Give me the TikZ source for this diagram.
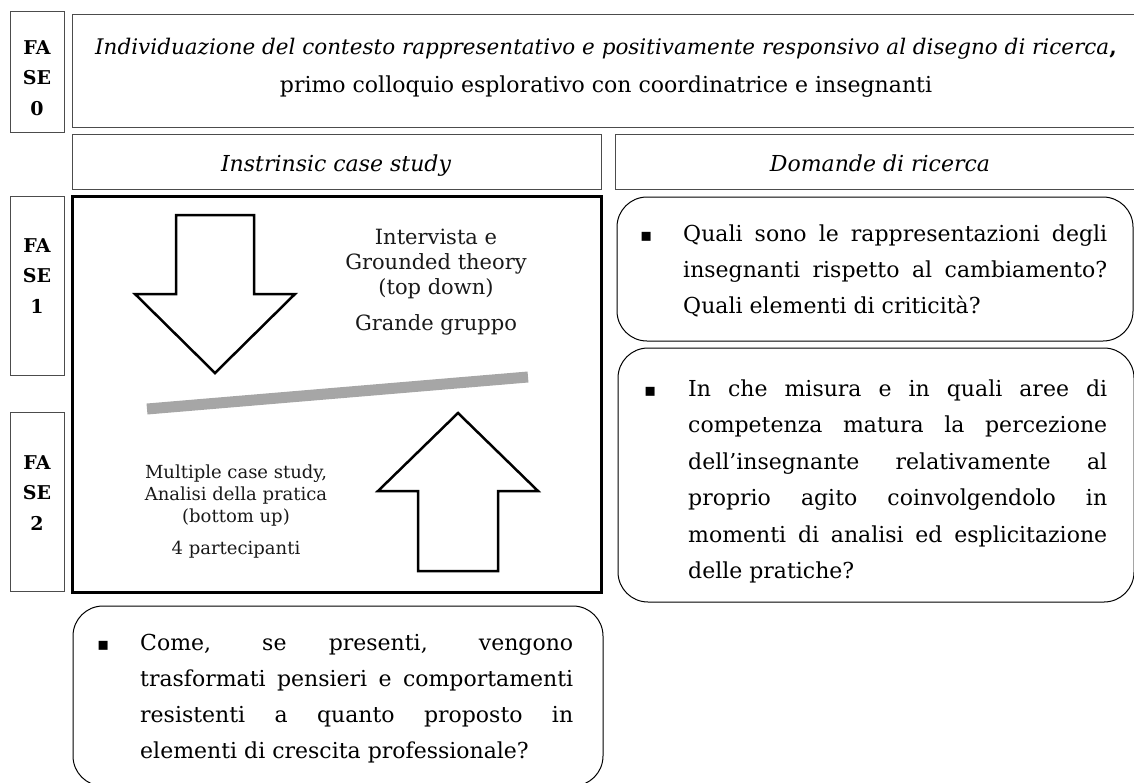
\documentclass[tikz,border=0pt]{standalone}
\usepackage{fontspec}
\setmainfont{DejaVu Serif}
\newfontfamily\bulletfont{DejaVu Sans}
\tikzset{
  thinbox/.style={draw=black!70, line width=1pt},
  panelbox/.style={draw=black, line width=3pt},
  qbox/.style={draw=black, line width=1pt, rounded corners=30pt},
  bigarrow/.style={draw=black, line width=2.5pt, fill=white, line join=miter},
  phaselabel/.style={anchor=north, inner sep=0pt, align=center,
    font=\fontsize{19}{30.5}\selectfont\bfseries},
  heading/.style={anchor=base, inner sep=0pt, font=\fontsize{22}{26}\selectfont\itshape},
  qtext/.style={anchor=north west, inner sep=0pt, text width=#1, align=justify,
    font=\fontsize{22}{36}\selectfont},
  qbullet/.style={anchor=base west, inner sep=0pt, font=\bulletfont\fontsize{18}{20}\selectfont},
  paneltext/.style={anchor=north, inner sep=0pt, align=center, text=black!90},
}
\begin{document}
\begin{tikzpicture}[x=1pt, y=-1pt]
\useasboundingbox (0,0) rectangle (1134,782);

% phase column
\draw[thinbox] (10,11) rectangle (64,132);
\draw[thinbox] (10,196) rectangle (64,375);
\draw[thinbox] (10,412) rectangle (64,591);
\node[phaselabel] (f0) at (37,32.6) {\strut FA\\SE\\0};
\node[phaselabel] (f1) at (37,230.6) {\strut FA\\SE\\1};
\node[phaselabel] (f2) at (37,447.6) {\strut FA\\SE\\2};

% context box
\draw[thinbox] (72,14) rectangle (1145,127);
\node[anchor=north, inner sep=0pt, align=center, font=\fontsize{22}{38}\selectfont]
  (ctx) at (606,27.4)
  {\strut{\fontsize{21.5}{38}\selectfont\textit{Individuazione del contesto rappresentativo e positivamente responsivo al disegno di ricerca}\textbf{,}}\\
   primo colloquio esplorativo con coordinatrice e insegnanti};

% column headings
\draw[thinbox] (72,134) rectangle (601,189);
\draw[thinbox] (615,134) rectangle (1145,189);
\node[heading] (hcase) at (336,171) {Instrinsic case study};
\node[heading] (hdom) at (880,171) {Domande di ricerca};

% design panel
\draw[panelbox] (72,196) rectangle (601,592);
\draw[bigarrow] (176,215) -- (254,215) -- (254,294) -- (295,294) -- (215,373)
  -- (135,294) -- (176,294) -- cycle;
\draw[bigarrow] (458,413) -- (538,491) -- (498,491) -- (498,571) -- (418,571)
  -- (418,491) -- (378,491) -- cycle;
\draw[line width=11pt, draw=black!35] (147,409) -- (528,377);
\node[paneltext, font=\fontsize{21}{25}\selectfont] (topdown) at (436,227)
  {\strut Intervista e\\Grounded theory\\(top down)\\[11pt]Grande gruppo};
\node[paneltext, font=\fontsize{18}{22}\selectfont] (bottomup) at (236,463)
  {\strut Multiple case study,\\Analisi della pratica\\(bottom up)\\[10pt]4 partecipanti};

% research questions
\draw[qbox] (617,197) rectangle (1133,341);
\draw[qbox] (618,348) rectangle (1134,602);
\draw[qbox] (73,606) rectangle (603,786);

\node[qbullet] (b1) at (640,241) {▪};
\node[qtext=424pt] (q1) at (683,215.8)
  {\hyphenpenalty=10000\tolerance=10000
   \strut Quali sono le rappresentazioni degli\linebreak
   insegnanti rispetto al cambiamento?\linebreak
   Quali elementi di criticità?};

\node[qbullet] (b2) at (644,396) {▪};
\node[qtext=419pt, font=\fontsize{22}{36.5}\selectfont] (q2) at (688,370.5)
  {\hyphenpenalty=10000\tolerance=10000
   \strut In che misura e in quali aree di\linebreak
   competenza matura la percezione\linebreak
   dell’insegnante relativamente al\linebreak
   proprio agito coinvolgendolo in\linebreak
   momenti di analisi ed esplicitazione\linebreak
   delle pratiche?};

\node[qbullet] (b3) at (97,650) {▪};
\node[qtext=433pt] (q3) at (140,624.8)
  {\hyphenpenalty=10000\tolerance=10000
   \strut Come, se presenti, vengono\linebreak
   trasformati pensieri e comportamenti\linebreak
   resistenti a quanto proposto in\linebreak
   elementi di crescita professionale?};
\end{tikzpicture}
\end{document}
